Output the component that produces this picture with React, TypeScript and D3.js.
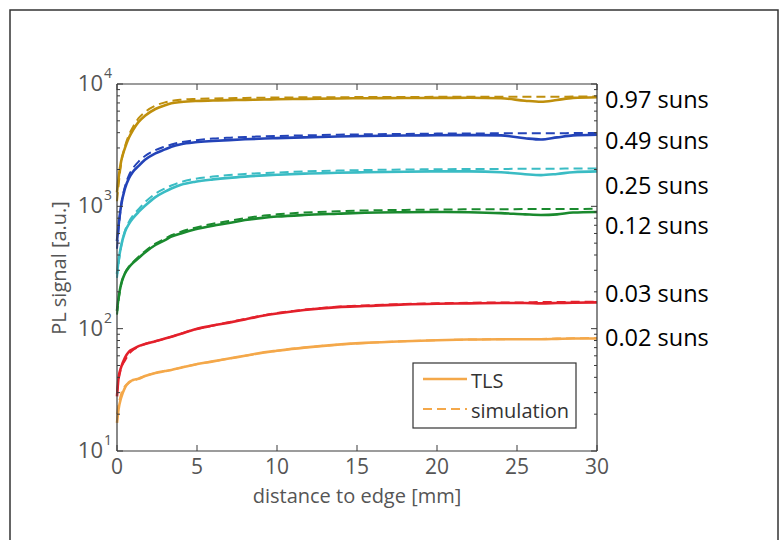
import React from "react";
import * as d3 from "d3";

const xGrid = [0, 0.1, 0.25, 0.5, 0.75, 1, 1.35, 1.75, 2.4, 3, 3.4, 4, 4.9, 6, 7, 8, 9.2, 10, 11.7, 13.8, 15.5, 18, 20, 22, 24, 25.5, 26.5, 27.5, 28.5, 30];

const goldTLS = [1300, 1700, 2300, 3000, 3650, 4200, 4900, 5500, 6250, 6700, 6950, 7120, 7260, 7330, 7380, 7420, 7470, 7500, 7560, 7620, 7650, 7680, 7700, 7710, 7650, 7300, 7150, 7400, 7700, 7800];
const goldSim = [1100, 1500, 2200, 3100, 3850, 4450, 5250, 5900, 6650, 7080, 7280, 7440, 7550, 7620, 7660, 7700, 7730, 7750, 7780, 7800, 7820, 7840, 7850, 7860, 7870, 7870, 7880, 7880, 7890, 7900];
const blueTLS = [520, 700, 1000, 1400, 1700, 1920, 2140, 2400, 2710, 2920, 3070, 3220, 3340, 3420, 3480, 3530, 3580, 3610, 3660, 3720, 3760, 3790, 3810, 3820, 3800, 3600, 3520, 3660, 3800, 3850];
const blueSim = [450, 650, 1000, 1450, 1800, 2050, 2320, 2580, 2880, 3080, 3200, 3340, 3470, 3580, 3640, 3690, 3730, 3760, 3800, 3850, 3880, 3910, 3930, 3940, 3950, 3950, 3960, 3960, 3970, 3980];
const cyanTLS = [280, 360, 470, 620, 720, 800, 900, 1010, 1190, 1320, 1400, 1500, 1590, 1660, 1710, 1750, 1790, 1810, 1850, 1880, 1900, 1920, 1930, 1930, 1900, 1830, 1800, 1840, 1900, 1930];
const cyanSim = [260, 340, 460, 630, 750, 840, 950, 1080, 1270, 1400, 1480, 1580, 1680, 1750, 1800, 1840, 1870, 1890, 1930, 1960, 1980, 2000, 2010, 2020, 2020, 2030, 2030, 2030, 2040, 2040];
const greenTLS = [140, 180, 230, 283, 318, 345, 378, 420, 483, 530, 565, 600, 649, 695, 730, 773, 807, 825, 850, 870, 885, 895, 900, 895, 880, 860, 850, 860, 890, 900];
const greenSim = [130, 170, 225, 285, 322, 350, 388, 430, 495, 545, 580, 620, 670, 720, 760, 800, 840, 860, 890, 910, 925, 935, 940, 945, 945, 950, 950, 950, 950, 955];
const redTLS = [28, 40, 48, 58, 65, 68, 72, 75, 79, 83, 86, 91, 99, 106, 112, 119, 128, 133, 142, 150, 153, 158, 160, 161, 162, 162, 161, 162, 163, 164];
const redSim = [30, 38, 47, 55, 62, 67, 71, 75, 79, 83, 86, 91, 99, 106, 113, 120, 129, 134, 143, 151, 155, 159, 161, 163, 164, 164, 165, 165, 166, 166];
const orangeTLS = [17, 22, 27, 33, 36.5, 38, 39, 41, 43.5, 45, 46, 48, 51, 54, 57, 60, 64, 66, 70, 74, 76.5, 79, 80.5, 81.5, 82, 82, 82, 82.5, 83, 83];
const orangeSim = [20, 24, 29, 34, 36, 37.5, 39, 41, 43.5, 45, 46, 48, 51, 54, 57, 60, 64, 66, 70, 74, 76.5, 79, 80.5, 81.5, 82, 82.5, 82.5, 83, 83.5, 84];

const seriesColors = ["#bf8f0c", "#2343b8", "#3abcc4", "#1a8a2e", "#e3202b", "#f4a84a"];
const tlsSeries = [goldTLS, blueTLS, cyanTLS, greenTLS, redTLS, orangeTLS];
const simSeries = [goldSim, blueSim, cyanSim, greenSim, redSim, orangeSim];

const sunLabels = ["0.97 suns", "0.49 suns", "0.25 suns", "0.12 suns", "0.03 suns", "0.02 suns"];
const sunLabelValues = [7610, 3480, 1507, 703, 194, 85.3];

const xTicks = [0, 5, 10, 15, 20, 25, 30];
const yMajor = [10, 100, 1000, 10000];
const yExp = ["1", "2", "3", "4"];
const legendLabels = ["TLS", "simulation"];

const W = 782, H = 540;
const left = 117, right = 597, top = 84, bottom = 451;
const font = "'Open Sans', 'Noto Sans', sans-serif";

export default function App() {
  const x = d3.scaleLinear().domain([0, 30]).range([left, right]);
  const y = d3.scaleLog().domain([10, 10000]).range([bottom, top]);
  const line = d3
    .line<number>()
    .x((_, i) => x(xGrid[i]))
    .y((v) => y(v))
    .curve(d3.curveMonotoneX);

  const minor: number[] = [];
  [10, 100, 1000].forEach((d) => {
    for (let k = 2; k <= 9; k++) minor.push(d * k);
  });

  const axisColor = "#3a3a3a";
  const tickColor = "#555";

  return (
    <svg width={W} height={H} style={{ position: "absolute", left: 0, top: 0, background: "#fff" }}>
      <rect x={10} y={10} width={768} height={560} fill="#fff" stroke="#333" strokeWidth={1.5} />
      <g fill="none">
        {tlsSeries.map((s, i) => (
          <path key={"t" + i} d={line(s) || ""} stroke={seriesColors[i]} strokeWidth={2.6} strokeLinejoin="round" />
        ))}
        {simSeries.map((s, i) => (
          <path key={"s" + i} d={line(s) || ""} stroke={seriesColors[i]} strokeWidth={2} strokeDasharray="9,5" />
        ))}
      </g>
      <line x1={left} y1={bottom} x2={right} y2={bottom} stroke={axisColor} strokeWidth={1.2} />
      <line x1={left} y1={top} x2={right} y2={top} stroke={axisColor} strokeWidth={1.2} />
      <line x1={left} y1={top} x2={left} y2={bottom} stroke={axisColor} strokeWidth={1.2} />
      <line x1={right} y1={top} x2={right} y2={bottom} stroke={axisColor} strokeWidth={1.2} />
      {xTicks.map((t) => (
        <g key={"xt" + t}>
          <line x1={x(t)} x2={x(t)} y1={bottom} y2={bottom - 6} stroke={axisColor} />
          <line x1={x(t)} x2={x(t)} y1={top} y2={top + 6} stroke={axisColor} />
          <text x={x(t)} y={bottom + 23} textAnchor="middle" fontFamily={font} fontSize={21} fill={tickColor}>{t}</text>
        </g>
      ))}
      {yMajor.map((t, i) => (
        <g key={"ym" + t}>
          <line x1={left} x2={left + 6} y1={y(t)} y2={y(t)} stroke={axisColor} />
          <line x1={right} x2={right - 6} y1={y(t)} y2={y(t)} stroke={axisColor} />
          <text x={103} y={y(t) + 7} textAnchor="end" fontFamily={font} fontSize={22} fill={tickColor}>10</text>
          <text x={104} y={y(t) - 6} textAnchor="start" fontFamily={font} fontSize={14} fill={tickColor}>{yExp[i]}</text>
        </g>
      ))}
      {minor.map((t) => (
        <g key={"yn" + t}>
          <line x1={left} x2={left + 3} y1={y(t)} y2={y(t)} stroke={axisColor} />
          <line x1={right} x2={right - 3} y1={y(t)} y2={y(t)} stroke={axisColor} />
        </g>
      ))}
      <text x={357} y={503} textAnchor="middle" fontFamily={font} fontSize={20} fill={tickColor}>distance to edge [mm]</text>
      <text transform={`translate(66,268) rotate(-90)`} textAnchor="middle" fontFamily={font} fontSize={20} fill={tickColor}>PL signal [a.u.]</text>
      {sunLabels.map((s, i) => (
        <text key={s} x={605} y={y(sunLabelValues[i])} dominantBaseline="central" fontFamily={font} fontSize={23.5} fill="#000">{s}</text>
      ))}
      <rect x={413} y={363} width={163} height={65} fill="#fff" stroke="#333" strokeWidth={1.2} />
      <line x1={423} x2={467} y1={379} y2={379} stroke={seriesColors[5]} strokeWidth={2.4} />
      <line x1={423} x2={467} y1={409} y2={409} stroke={seriesColors[5]} strokeWidth={2.2} strokeDasharray="9,5" />
      <text x={471} y={380} dominantBaseline="central" fontFamily={font} fontSize={20} fill="#333">{legendLabels[0]}</text>
      <text x={471} y={410} dominantBaseline="central" fontFamily={font} fontSize={20} fill="#333">{legendLabels[1]}</text>
    </svg>
  );
}
